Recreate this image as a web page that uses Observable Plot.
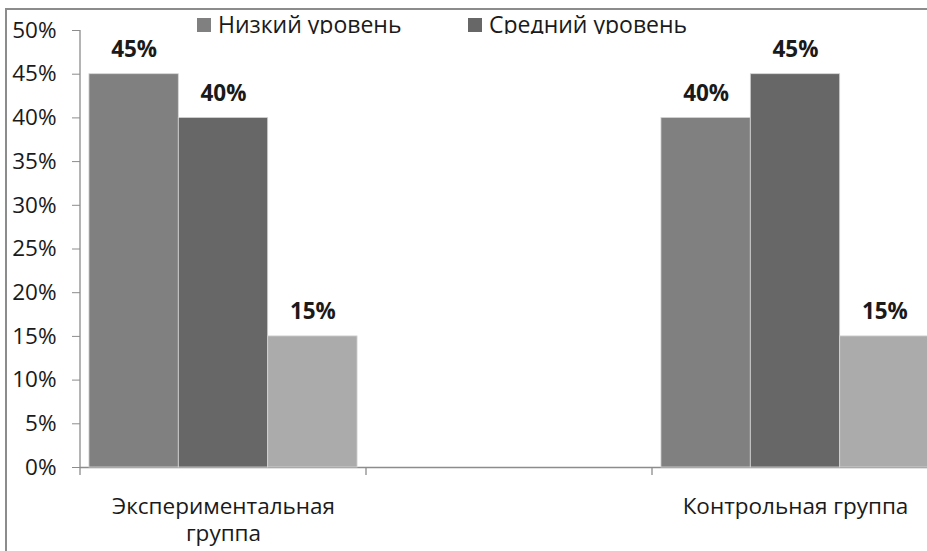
<!DOCTYPE html>
<html>
<head>
<meta charset="utf-8">
<script src="https://cdn.jsdelivr.net/npm/d3@7"></script>
<script src="https://cdn.jsdelivr.net/npm/@observablehq/plot@0.6"></script>
<style>
  html, body { margin: 0; padding: 0; background: #fff; }
  #wrap { position: relative; width: 927px; height: 551px; overflow: hidden; font-family: "Open Sans", sans-serif; }
  #frame { position: absolute; left: 5px; top: 8px; right: -10px; bottom: -10px; border-left: 2px solid #8c8c8c; border-top: 2px solid #8c8c8c; pointer-events: none; }
  #chart { position: absolute; left: 0; top: 0; }
  .legend { position: absolute; top: 11px; height: 23px; overflow: hidden; display: flex; align-items: flex-start; font-size: 23px; color: #1a1a1a; line-height: 26px; white-space: nowrap; }
  .legend .sw { display: inline-block; width: 14px; height: 14px; margin-top: 7px; margin-right: 7px; }
</style>
</head>
<body>
<div id="wrap">
  <div id="chart"></div>
  <div id="legend"></div>
  <div id="frame"></div>
</div>
<script>
// ---- data ----
const categories = ["Экспериментальная группа", " ", "Контрольная группа"];
const series = ["Низкий уровень", "Средний уровень", "Высокий уровень"];
const experimentalValues = [0.45, 0.40, 0.15];
const controlValues = [0.40, 0.45, 0.15];
const yTicks = [0, 0.05, 0.10, 0.15, 0.20, 0.25, 0.30, 0.35, 0.40, 0.45, 0.50];
const seriesColors = ["#808080", "#676767", "#ababab"];
const legendSeries = ["Низкий уровень", "Средний уровень"];
const categoryLabels = {
  "Экспериментальная группа": "Экспериментальная\nгруппа",
  " ": "",
  "Контрольная группа": "Контрольная группа"
};

const rows = [
  ...series.map((s, i) => ({group: categories[0], series: s, value: experimentalValues[i]})),
  ...series.map((s, i) => ({group: categories[2], series: s, value: controlValues[i]}))
];
const groupRows = categories.map(c => ({group: c}));

const pct = d3.format(".0%");
const FONT = 22.5;

const plot = Plot.plot({
  width: 927,
  height: 551,
  marginLeft: 80,
  marginRight: 0,
  marginTop: 30,
  marginBottom: 84,
  style: {fontFamily: "'Open Sans', sans-serif", background: "transparent", overflow: "visible"},
  fx: {domain: categories, range: [80, 938], paddingInner: 0, paddingOuter: 0, round: false, label: null, axis: null},
  x: {domain: series, paddingInner: 0, paddingOuter: 0.1, round: false, axis: null},
  y: {domain: [0, 0.5], axis: null},
  color: {domain: series, range: seriesColors},
  marks: [
    Plot.ruleY(groupRows, {fx: "group", y: () => 0, stroke: "#8c8c8c", strokeWidth: 1.3}),
    Plot.barY(rows, {fx: "group", x: "series", y: "value", fill: "series", stroke: "#d6d6d6", strokeWidth: 0.8}),
    Plot.text(rows, {fx: "group", x: "series", y: "value", text: d => pct(d.value), dy: -17, lineAnchor: "bottom", fontWeight: "bold", fontSize: FONT, fill: "#1a1a1a"}),
    Plot.axisY(yTicks, {fx: () => categories[0], facetAnchor: null, tickFormat: pct, tickSize: 8, tickPadding: 16, stroke: "#8c8c8c", fill: "#1a1a1a", fontSize: FONT, label: null}),
    Plot.axisFx({anchor: "bottom", tickSize: 0, tickPadding: 27, tickFormat: d => categoryLabels[d], fontSize: FONT, fill: "#1a1a1a", lineHeight: 1.22, label: null})
  ]
});
document.getElementById("chart").appendChild(plot);

// y axis line and category-boundary ticks drawn from Plot's own scales
const fxDesc = plot.scale("fx");
const yDesc = plot.scale("y");
const fxBand = d3.scaleBand(fxDesc.domain, fxDesc.range).paddingInner(fxDesc.paddingInner || 0).paddingOuter(fxDesc.paddingOuter || 0);
const yLin = d3.scaleLinear(yDesc.domain, yDesc.range);
const svg = d3.select(plot.tagName.toLowerCase() === "svg" ? plot : plot.querySelector("svg"));
const g = svg.append("g").attr("stroke", "#8c8c8c").attr("stroke-width", 1.3);
const left = fxBand(categories[0]);
const right = fxBand(categories[categories.length - 1]) + fxBand.bandwidth();
g.append("line").attr("x1", left).attr("x2", left).attr("y1", yLin(0.5)).attr("y2", yLin(0));
const edges = categories.map(c => fxBand(c)).concat([right]);
g.selectAll("line.edge").data(edges).join("line").attr("class", "edge")
  .attr("x1", d => d).attr("x2", d => d).attr("y1", yLin(0)).attr("y2", yLin(0) + 8);

// legend
const legendLeft = [197, 468];
const legend = document.getElementById("legend");
legendSeries.forEach((s, i) => {
  const item = document.createElement("div");
  item.className = "legend";
  item.style.left = legendLeft[i] + "px";
  const sw = document.createElement("span");
  sw.className = "sw";
  sw.style.background = seriesColors[series.indexOf(s)];
  item.appendChild(sw);
  item.appendChild(document.createTextNode(s));
  legend.appendChild(item);
});
</script>
</body>
</html>
